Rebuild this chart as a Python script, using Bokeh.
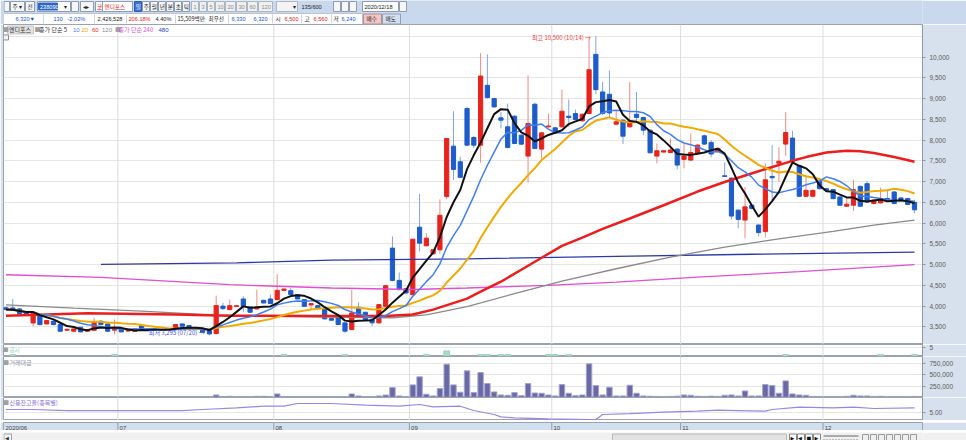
import pandas as pd
from bokeh.plotting import figure
from bokeh.layouts import column
from bokeh.models import Range1d, FixedTicker, NumeralTickFormatter, Label, Span, ColumnDataSource
from bokeh.core.properties import value
from bokeh.embed import file_html
from bokeh.resources import INLINE

# ---------------- data ----------------
stock_name = "엔디포스"
stock_code = "238090"
month_labels = ["2020/06", "07", "08", "09", "10", "11", "12"]
month_start = [0, 17, 40, 60, 81, 100, 121]          # candle index of first trading day of month
last_date_label = "12/18"

opens = [3960, 3956, 3932, 3870, 3595, 3772, 3571, 3636, 3555, 3420,
         3395, 3491, 3395, 3419, 3636, 3571, 3420, 3451, 3400, 3395,
         3531, 3451, 3440, 3430, 3420, 3435, 3571, 3531, 3451, 3435,
         3411, 3339, 4000, 3915, 3990, 4172, 3980, 3932, 4140, 4172,
         4156, 4380, 4372, 4276, 4156, 4028, 4012, 3932, 3700, 3740,
         3596, 3436, 3972, 3852, 3676, 3596, 3996, 5397, 4620, 4420,
         4276, 5901, 5453, 5261, 5357, 6638, 7854, 7478, 8759, 8062,
         7878, 9319, 8999, 8535, 8319, 8575, 8118, 7614, 8863, 7782,
         8320, 8295, 8319, 8575, 8639, 8463, 8639, 10064, 9159, 9103,
         8383, 8479, 8319, 8623, 8543, 8239, 7614, 7710, 7700, 7782,
         7534, 7518, 7681, 8102, 7943, 7728, 7140, 7084, 6312, 6073,
         6431, 5954, 5795, 7124, 7442, 7903, 8047, 7386, 6646, 6646,
         7012, 6829, 6805, 6630, 6407, 6431, 6885, 6949, 6471, 6487,
         6590, 6750, 6606, 6590, 6500]
highs = [3990, 4172, 3950, 3880, 3850, 3790, 3660, 3650, 3580, 3460,
         3460, 3500, 3445, 3716, 3660, 3580, 3675, 3470, 3420, 3460,
         3540, 3460, 3450, 3440, 3450, 3570, 3580, 3540, 3460, 3440,
         3420, 4252, 4080, 4156, 4020, 4236, 3990, 4396, 4150, 4276,
         4772, 4420, 4436, 4290, 4170, 4070, 4030, 3940, 3720, 3760,
         3610, 4396, 4092, 3860, 3690, 4050, 4500, 5677, 4812, 4440,
         5620, 6702, 5757, 5370, 6574, 8050, 8695, 7598, 8800, 8100,
         10096, 10064, 9020, 8679, 8879, 8600, 8140, 9559, 8900, 8200,
         8639, 8310, 9215, 8975, 8735, 8640, 10450, 10500, 9400, 9679,
         8719, 8500, 9399, 9159, 8560, 8250, 7918, 7760, 8038, 7800,
         7918, 8158, 7900, 8130, 8000, 7820, 7466, 7100, 6330, 6869,
         6450, 5970, 7442, 7880, 7825, 8675, 8222, 7400, 7108, 6800,
         7092, 6850, 6820, 6650, 6630, 7044, 6900, 7012, 6570, 6853,
         6805, 6770, 6620, 6610, 6560]
lows = [3900, 3880, 3800, 3780, 3515, 3540, 3560, 3540, 3380, 3400,
        3390, 3370, 3385, 3400, 3540, 3380, 3315, 3370, 3390, 3385,
        3425, 3410, 3420, 3410, 3410, 3430, 3505, 3440, 3420, 3360,
        3295, 3320, 3900, 3900, 3980, 3852, 3840, 3920, 4060, 4050,
        4140, 4360, 4270, 4160, 3990, 3916, 3940, 3680, 3640, 3540,
        3356, 3420, 3790, 3670, 3516, 3580, 3980, 4600, 4380, 4300,
        4260, 5317, 5440, 5240, 5261, 6574, 7038, 7090, 7850, 7800,
        7454, 9000, 8780, 8279, 7800, 7900, 7880, 6974, 7780, 7558,
        8295, 8150, 8300, 8319, 8480, 8440, 8620, 9103, 8600, 8543,
        8359, 7902, 8300, 8463, 8118, 7680, 7438, 7700, 7680, 7294,
        7318, 7500, 7660, 7880, 7585, 7700, 7110, 6089, 5874, 5636,
        6330, 5675, 5659, 6551, 6988, 7625, 7470, 6630, 6630, 6630,
        6810, 6770, 6570, 6420, 6391, 6296, 6390, 6490, 6450, 6470,
        6560, 6450, 6550, 6430, 6240]
closes = [3920, 3900, 3820, 3800, 3840, 3555, 3652, 3555, 3395, 3440,
          3451, 3379, 3435, 3611, 3555, 3395, 3440, 3379, 3410, 3451,
          3435, 3419, 3430, 3420, 3440, 3555, 3515, 3451, 3435, 3371,
          3331, 4012, 3940, 4011, 4010, 3996, 3852, 3980, 4076, 4060,
          4380, 4412, 4276, 4172, 3996, 4060, 3948, 3692, 3660, 3556,
          3396, 3836, 3796, 3676, 3596, 4036, 4492, 4620, 4396, 4316,
          5613, 5517, 5637, 5357, 6189, 8038, 7294, 7102, 7878, 7878,
          9543, 9023, 8799, 8479, 7822, 7918, 7902, 8399, 7798, 8174,
          8340, 8174, 8695, 8543, 8495, 8623, 9695, 9215, 8639, 8655,
          8439, 8094, 8463, 8543, 8239, 7694, 7742, 7742, 7760, 7398,
          7614, 7702, 7880, 7903, 7665, 7800, 7124, 6169, 6089, 6391,
          6352, 5771, 7044, 7092, 7490, 8182, 7490, 6646, 6789, 6789,
          6829, 6789, 6590, 6431, 6455, 6805, 6407, 6511, 6551, 6575,
          6580, 6471, 6567, 6450, 6320]
trade_value = [12000, 15000, 6000, 5000, 7000, 6000, 5000, 5000, 6000, 4000,
               4000, 5000, 4000, 8000, 5000, 5000, 7000, 4000, 3000, 4000,
               5000, 4000, 3000, 3000, 3000, 6000, 4000, 4000, 3000, 5000,
               8000, 52000, 8000, 22000, 8000, 6000, 5000, 22000, 22000, 8000,
               75000, 15000, 15000, 15000, 15000, 6000, 5000, 8000, 5000, 6000,
               8000, 75000, 30000, 10000, 8000, 30000, 50000, 218000, 30000, 15000,
               278000, 458000, 68000, 30000, 195000, 743000, 278000, 113000, 593000, 105000,
               555000, 308000, 120000, 52000, 45000, 105000, 37000, 308000, 97000, 90000,
               52000, 30000, 285000, 90000, 37000, 52000, 750000, 263000, 52000, 225000,
               30000, 30000, 270000, 90000, 30000, 22000, 20000, 18000, 20000, 25000,
               52000, 45000, 22000, 20000, 25000, 20000, 45000, 52000, 30000, 142000,
               30000, 30000, 285000, 263000, 90000, 368000, 75000, 52000, 45000, 20000,
               18000, 15000, 15000, 18000, 22000, 45000, 30000, 30000, 20000, 22000,
               18000, 15000, 15000, 18000, 20000]
disclosure_idx = [1, 16, 41, 50, 62, 65, 70, 71, 73, 74, 80, 81, 83, 115, 129, 134]
disclosure_cnt = [1, 1, 1, 1, 1, 3, 1, 1, 1, 1, 1, 1, 1, 1, 1, 1]

# long moving averages (their history is not on the chart)
ma60_idx = [0, 12, 25, 33, 45, 56, 60, 63, 68, 70, 73, 76, 79, 82, 85, 88, 92, 97, 102, 106, 111, 116, 118, 121, 124, 126, 128, 131, 134]
ma60_val = [3770, 3830, 3800, 3770, 3760, 3760, 3796, 3916, 4180, 4348, 4588, 4876, 5165, 5453, 5650, 5860, 6110, 6430, 6760, 6990, 7250, 7500, 7590, 7700, 7740, 7730, 7690, 7590, 7477]
ma120_idx = [0, 10, 20, 31, 45, 57, 62, 68, 75, 82, 90, 98, 106, 114, 122, 128, 134]
ma120_val = [4030, 3950, 3880, 3780, 3740, 3720, 3790, 3990, 4300, 4600, 4900, 5180, 5420, 5620, 5800, 5950, 6070]
ma240_idx = [0, 14, 33, 48, 60, 68, 80, 90, 102, 117, 134]
ma240_val = [4756, 4690, 4516, 4436, 4400, 4436, 4500, 4580, 4700, 4830, 5000]
ma480_idx = [14, 34, 48, 68, 90, 110, 134]
ma480_val = [5004, 5044, 5108, 5140, 5200, 5250, 5300]

credit_idx = [0, 4, 9, 26, 29, 34, 38, 41, 43, 48, 53, 58, 61, 63, 67, 69, 72, 73, 75, 80,
              86, 87, 88, 92, 97, 102, 105, 108, 112, 113, 117, 122, 125, 128, 134]
credit_val = [5.55, 5.55, 5.38, 5.38, 5.55, 5.83, 6.10, 6.10, 6.55, 6.55, 6.27, 6.10, 6.38, 6.00, 6.10,
              5.38, 4.72, 4.33, 4.17, 4.00, 3.88, 3.88, 4.72, 4.88, 5.11, 5.27, 5.44, 5.38, 5.27, 5.55,
              5.94, 5.83, 5.94, 5.72, 5.83]

price_ticks = [3500, 4000, 4500, 5000, 5500, 6000, 6500, 7000, 7500, 8000, 8500, 9000, 9500, 10000]
price_grid = price_ticks + [10500]
vol_ticks = [250000, 500000, 750000]
high_note = "최고 10,500 (10/14) →"
high_idx, high_val = 87, 10500
low_note = "최저 3,295 (07/20) →"
low_idx, low_val = 30, 3295
last_price, last_pct = 6320, "-2.02%"

n = len(closes)
assert len(opens) == n == len(highs) == len(lows) == len(trade_value) == 135
idx = list(range(n))
ma5 = pd.Series(closes).rolling(5, min_periods=1).mean().tolist()
ma10 = pd.Series(closes).rolling(10, min_periods=1).mean().tolist()
ma20 = pd.Series(closes).rolling(20, min_periods=1).mean().tolist()

# ---------------- styling / layout helpers ----------------
KR = "Noto Sans CJK KR"
NUM = "Liberation Sans"
UP, DOWN = "#e8231c", "#1d5ccb"
UP_W, DOWN_W = "#f08a82", "#80a4e4"
AX_BG = "#d7e1ee"
BAND = "#d3dfee"
W = 966                       # Bokeh's page template removes the body margin
X0, DX = 5.5, 6.78            # reference-pixel position of first candle and candle pitch
LB, RB = 3, 44                # left / right border widths (frames are aligned in the column)


def ix(xref):
    return (xref - X0) / DX


XR = Range1d(ix(LB), ix(W - RB))
month_lines = [m - 0.5 for m in month_start[1:]]


def py(yref):                  # reference pixel row -> price (for chrome texts in price panel)
    return 10640 - 24.015 * (yref - 30)


def panel(h, yr, axis=True):
    f = figure(width=W, height=h, x_range=XR, y_range=yr, output_backend="svg",
               toolbar_location=None, x_axis_location=None,
               y_axis_location=("right" if axis else None),
               min_border_left=LB, min_border_right=RB, min_border_top=0, min_border_bottom=0)
    f.background_fill_color = "white"
    f.border_fill_color = AX_BG
    f.outline_line_color = "#9aa3ae"
    f.xgrid.visible = False
    if not axis:
        f.ygrid.visible = False
    for m in month_lines:
        f.add_layout(Span(location=m, dimension="height", line_color="#dcdcdc",
                          line_width=1, level="underlay"))
    return f


def style_axis(f, ticks, fmt):
    ax = f.yaxis[0]
    ax.ticker = FixedTicker(ticks=ticks)
    ax.formatter = NumeralTickFormatter(format=fmt)
    ax.major_label_text_font_size = "6.5px"
    ax.major_label_text_font = NUM
    ax.major_label_text_color = "#5a5a5a"
    ax.axis_line_color = "#8d99a8"
    ax.major_tick_line_color = "#8d99a8"
    ax.major_tick_out = 3
    ax.major_tick_in = 0
    ax.minor_tick_line_color = None
    ax.major_label_standoff = 4
    f.ygrid.ticker = FixedTicker(ticks=ticks)
    f.ygrid.grid_line_color = "#e6e6e6"


def texts(f, items, size="6px", align="left", font=KR):
    src = ColumnDataSource(dict(x=[a[0] for a in items], y=[a[1] for a in items],
                                t=[a[2] for a in items], c=[a[3] for a in items]))
    f.text(x="x", y="y", text="t", text_color="c", source=src, text_font=value(font),
           text_font_size=value(size), text_baseline="middle", text_align=align)


def labels(f, items, size="5px", font="DejaVu Sans"):
    for x, y, t, c in items:
        f.add_layout(Label(x=x, y=y, text=t, text_color=c, text_font=font,
                           text_font_size=size, text_baseline="middle"))


def pixel_fig(h, y0, y1, bg):
    # reference-pixel coordinates; frame spans the same columns as the chart panels
    f = figure(width=W, height=h, x_range=Range1d(LB, W - RB), y_range=Range1d(y1, y0),
               output_backend="svg", toolbar_location=None, x_axis_location=None,
               y_axis_location=None, min_border_left=LB, min_border_right=RB,
               min_border_top=0, min_border_bottom=0)
    f.background_fill_color = bg
    f.border_fill_color = bg
    f.outline_line_color = None
    f.grid.visible = False
    return f


def boxes(f, items):
    f.quad(left=[b[0] for b in items], right=[b[1] for b in items],
           top=[b[2] for b in items], bottom=[b[3] for b in items],
           fill_color=[b[4] for b in items], line_color=[b[5] for b in items], line_width=1)


# ---------------- top toolbar (HTS chrome) ----------------
top = pixel_fig(24, 0, 24, "#c9d8ec")
E, F, WH = "#8c9cb4", "#f6f6f6", "#ffffff"
row1 = [(3.5, 9, 1, 11, F, E), (10, 24, 1, 11, F, E), (25, 34, 1, 11, F, E), (37, 70, 1, 11, WH, E),
        (38, 57, 2.5, 9.5, "#2f66c6", "#2f66c6"), (71, 78, 1, 11, F, E), (80, 93, 1, 11, F, E),
        (95, 102, 1, 11, F, E), (102, 132, 1, 11, WH, E), (134, 141, 1, 11, "#3b72d6", "#2d5cb0")]
for k in range(6):
    row1.append((142 + 8 * k, 149 + 8 * k, 1, 11, F, E))
for a, b in [(191, 198), (199, 206), (207, 214), (215, 224), (225, 235), (236, 246), (247, 257), (258, 272)]:
    row1.append((a, b, 1, 11, "#f0f0f0", "#aab6c6"))
row1 += [(276, 297, 1, 11, "#f4f4f4", "#aab6c6"), (333, 340, 1, 11, F, E), (341, 348, 1, 11, F, E),
         (349, 356, 1, 11, F, E), (362, 398, 1, 11, WH, E), (399, 406, 1, 11, F, E),
         (3, 362, 13, 24, WH, "#b8c4d4"), (363, 381, 13.5, 23.5, "#f2c6c2", "#b89090"),
         (382, 400, 13.5, 23.5, "#d4def0", "#90a0b8")]
boxes(top, row1)
for xs in [43, 94, 126, 175, 228, 272, 301, 331]:
    top.segment(x0=[xs], y0=[14], x1=[xs], y1=[23], line_color="#d0d6de", line_width=1)
B, R, K, G = "#1c4fd8", "#e02020", "#222222", "#8a8a8a"
texts(top, [(12, 6, "주", K), (18, 6, "▾", K), (27, 6, "전", K), (63, 6, "▾", K), (82, 6, "◂▸", K),
            (96.5, 6, "코", R), (104, 6, stock_name, R),
            (135.3, 6, "일", "#ffffff"), (143.3, 6, "주", K), (151.3, 6, "월", K), (159.3, 6, "년", K),
            (167.3, 6, "분", K), (175.3, 6, "초", K), (183.3, 6, "틱", K),
            (292, 6, "▾", K), (208, 18.5, "최우선", K), (275, 18.5, "시", K), (304, 18.5, "고", K),
            (333, 18.5, "저", K), (366, 18.5, "매수", K), (385, 18.5, "매도", K),
            (177, 18.5, "15,509백만", K)], size="5.6px")
texts(top, [(39.5, 6, stock_code, "#ffffff"), (301, 6, "135/600", K), (364, 6, "2020/12/18", K),
            (193, 6, "1", G), (201, 6, "3", G), (209, 6, "5", G), (217, 6, "10", G),
            (227, 6, "20", G), (238, 6, "30", G), (249, 6, "60", G), (261, 6, "120", G),
            (15, 18.5, "6,320▼", B), (53, 18.5, "130", B), (67, 18.5, "-2.02%", B),
            (97, 18.5, "2,426,528", K), (128, 18.5, "206.18%", R), (155, 18.5, "4.40%", K),
            (231, 18.5, "6,330", B), (253, 18.5, "6,320", B), (284, 18.5, "6,500", R),
            (313, 18.5, "6,560", R), (341, 18.5, "6,240", B)], size="5.6px", font=NUM)

# ---------------- price panel ----------------
price = panel(320, Range1d(py(345), py(24)))
style_axis(price, price_ticks, "0,0")
price.ygrid.ticker = FixedTicker(ticks=price_grid)

up = [c >= o for o, c in zip(opens, closes)]
csrc = ColumnDataSource(dict(x=idx, h=highs, l=lows,
                             top=[max(o, c) for o, c in zip(opens, closes)],
                             bot=[min(o, c) for o, c in zip(opens, closes)],
                             bc=[UP if u else DOWN for u in up],
                             wc=[UP_W if u else DOWN_W for u in up]))
price.segment(x0="x", y0="l", x1="x", y1="h", line_color="wc", line_width=1, source=csrc)
price.vbar(x="x", width=0.62, top="top", bottom="bot", fill_color="bc", line_color="bc",
           line_width=1, source=csrc)

price.line(ma480_idx, ma480_val, line_color="#2b3aa8", line_width=1.3)
price.line(ma240_idx, ma240_val, line_color="#e04fcf", line_width=1.3)
price.line(ma120_idx, ma120_val, line_color="#8a8a8a", line_width=1.3)
price.line(ma60_idx, ma60_val, line_color="#ee1c1c", line_width=2.5)
price.line(idx, ma20, line_color="#f2a900", line_width=2)
price.line(idx, ma10, line_color="#3f7ff2", line_width=1.5)
price.line(idx, ma5, line_color="#111111", line_width=2)

# legend row
price.quad(left=[ix(7)], right=[ix(33)], top=[py(25.5)], bottom=[py(33.5)],
           fill_color="#e2e2e2", line_color="#c8c8c8")
price.quad(left=[ix(3)], right=[ix(8)], top=[py(34.5)], bottom=[py(39.5)],
           fill_color="#f4f4f4", line_color="#8c8c8c")
texts(price, [(ix(2.5), py(29.5), "■", "#a0a0a0"), (ix(8.5), py(29.5), stock_name, "#333333"),
              (ix(34), py(29.5), "■", "#a0a0a0"), (ix(38.5), py(29.5), "종가 단순 5", "#333333"),
              (ix(114.5), py(29.5), "■", "#a0a0a0"), (ix(118), py(29.5), "종가 단순 240", "#e04fcf")],
      size="6px")
texts(price, [(ix(72.5), py(29.5), "10", "#3f7ff2"), (ix(81), py(29.5), "20", "#f2a900"),
              (ix(91.5), py(29.5), "60", "#ee1c1c"), (ix(101.5), py(29.5), "120", "#8a8a8a"),
              (ix(158), py(29.5), "480", "#2b3ac0")], size="6px", font=NUM)
texts(price, [(high_idx - 0.7, high_val - 20, high_note, "#f03a3a")], size="6px", align="right")
texts(price, [(low_idx - 0.7, low_val + 60, low_note, "#3a4ef0")], size="6px", align="right")

for lab in [Label(x=ix(924), y=py(28), text="LC:91.81", text_color="#e83030"),
            Label(x=ix(924), y=py(35), text="HC:-39.81", text_color="#3a6ee0"),
            Label(x=ix(922.5), y=last_price, text="6,320\u00a0\u00a0\u00a0\u00a0\u00a0\u00a0\u00a0",
                  text_color="#ffffff", background_fill_color="#1f5dcc"),
            Label(x=ix(926), y=last_price - 170, text=last_pct, text_color="#2b5fe0")]:
    lab.text_font = NUM
    lab.text_font_size = "6.5px"
    lab.text_baseline = "middle"
    price.add_layout(lab)

# ---------------- disclosure panel (공시) ----------------
disc = panel(12, Range1d(0, 6.5))
style_axis(disc, [5], "0")
disc.vbar(x=disclosure_idx, top=disclosure_cnt, bottom=0, width=0.85,
          fill_color="#a9dcc6", line_color="#94d2b8")
texts(disc, [(ix(2.5), 3.6, "■", "#a0a0a0"), (ix(9), 3.6, "공시", "#8fd3b4")], size="5.5px")

# ---------------- trading value panel (거래대금) ----------------
vol = panel(41, Range1d(-5000, 915000))
style_axis(vol, vol_ticks, "0,0")
vol.vbar(x=idx, top=trade_value, bottom=0, width=0.8, fill_color="#6a69a6",
         line_color="#a3a3cf", line_width=1)
texts(vol, [(ix(2.5), 790000, "■", "#a0a0a0"), (ix(9), 790000, "거래대금", "#8f8fa8")], size="6px")

# ---------------- credit balance panel (신용잔고율) ----------------
cred = panel(23, Range1d(3.72, 7.55))
style_axis(cred, [5], "0.00")
cred.line(credit_idx, credit_val, line_color="#9b86e6", line_width=1.2)
texts(cred, [(ix(2.5), 6.75, "■", "#a0a0a0"), (ix(9), 6.75, "신용잔고율(종목별)", "#8a70d8")], size="6px")

for f, yv in [(disc, 4.8), (vol, 840000), (cred, 7.0)]:
    sq = Label(x=ix(956), y=yv, text="■", text_color="#5a5a5a", text_font_size="5px",
               text_baseline="middle")
    f.add_layout(sq)

# ---------------- date band ----------------
band = panel(10, Range1d(0, 1), axis=False)
band.background_fill_color = BAND
band.border_fill_color = BAND
for m in month_lines:
    band.add_layout(Span(location=m, dimension="height", line_color="#8e9cb2", line_width=1))
texts(band, [(ix(5), 0.5, month_labels[0], "#444444")] +
      [(m - 0.5 + 0.25, 0.5, lab, "#444444") for m, lab in zip(month_start[1:], month_labels[1:])],
      size="6px", font=NUM)
band.add_layout(Label(x=ix(928), y=0.5, text=last_date_label, text_color="#444444",
                      text_font=NUM, text_font_size="6px", text_baseline="middle"))

# ---------------- bottom bar ----------------
bot = pixel_fig(10, 430, 440, "#f0f0f0")
boxes(bot, [(3.5, 11, 431.5, 438.5, "#f8f8f8", "#9aa4b0"), (612, 786, 431.5, 438.5, "#e2e2e2", "#b8b8b8"),
            (789, 796, 431.5, 438.5, WH, "#888888"), (797, 804, 431.5, 438.5, WH, "#888888"),
            (805, 812, 431.5, 438.5, WH, "#888888"), (813, 820, 431.5, 438.5, WH, "#888888")])
bot.segment(x0=[823], y0=[433.5], x1=[858], y1=[433.5], line_color="#666666")
bot.segment(x0=[823], y0=[437], x1=[858], y1=[437], line_color="#888888", line_dash="1 2")
for k in range(7):
    bot.quad(left=[862 + 8 * k], right=[868 + 8 * k], top=[432], bottom=[438],
             fill_color="#eeeeee", line_color="#9a9a9a")
labels(bot, [(4.5, 435, "◀", "#333333"), (790, 435, "▶", "#111111"), (797.5, 435, "◀", "#111111"),
             (806, 435, "■", "#111111"), (814, 435, "▶", "#111111"), (929, 435, "Q", "#555555"),
             (938, 435, "−", "#555555"), (947, 435, "+", "#555555"), (957, 435, "A", "#555555")])

layout = column(top, price, disc, vol, cred, band, bot, spacing=0)
open("out.html", "w").write(file_html(layout, INLINE))
